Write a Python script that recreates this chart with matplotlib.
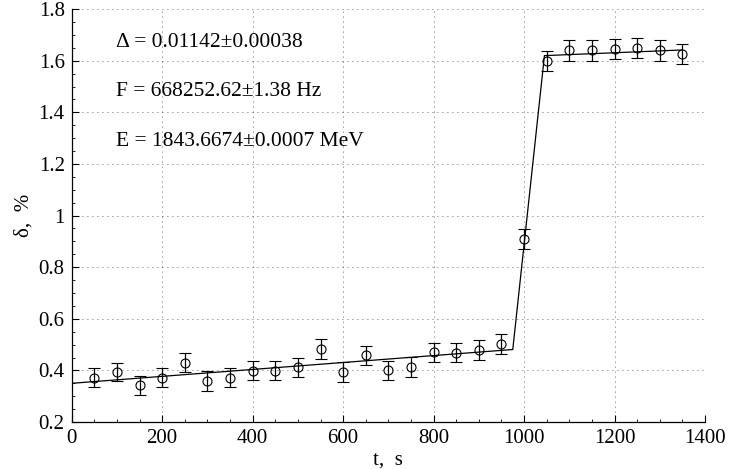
import matplotlib
matplotlib.use('Agg')
from matplotlib import pyplot as plt
from matplotlib.ticker import MultipleLocator

# measured points
t = [50, 100, 150, 200, 250, 300, 350, 400, 450, 500, 550, 600, 650, 700,
     750, 800, 850, 900, 950, 1000, 1050, 1100, 1150, 1200, 1250, 1300, 1350]
delta = [0.372, 0.393, 0.342, 0.372, 0.430, 0.359, 0.372, 0.398, 0.398, 0.413,
         0.484, 0.393, 0.458, 0.400, 0.414, 0.470, 0.469, 0.480, 0.502, 0.908,
         1.598, 1.640, 1.640, 1.646, 1.651, 1.640, 1.625]
err = [0.036, 0.036, 0.037, 0.037, 0.037, 0.037, 0.037, 0.037, 0.037, 0.037,
       0.038, 0.038, 0.038, 0.038, 0.038, 0.038, 0.038, 0.038, 0.038, 0.039,
       0.039, 0.039, 0.039, 0.039, 0.039, 0.039, 0.039]

# fit curve
fit_t = [0, 975, 1045, 1350]
fit_d = [0.350, 0.481, 1.620, 1.642]

labels = [u'\u0394 = 0.01142\u00b10.00038',
          u'F = 668252.62\u00b11.38 Hz',
          u'E = 1843.6674\u00b10.0007 MeV']
label_y = [1.655, 1.462, 1.268]

plt.rcParams['font.family'] = ['Liberation Serif', 'DejaVu Serif']
plt.rcParams['font.size'] = 15

fig = plt.figure(figsize=(7.3, 4.69), dpi=100)
ax = fig.add_axes([0.0982, 0.1002, 0.8676, 0.8802])

ax.plot(fit_t, fit_d, color='black', linewidth=0.9)
ax.errorbar(t, delta, yerr=err, fmt='o', color='black', mfc='none',
            markersize=6.5, mew=0.8, elinewidth=0.9, capsize=4.5, capthick=0.9)

for s, y in zip(labels, label_y):
    ax.text(98, y, s, fontsize=15.5, va='baseline', ha='left')

ax.set_xlim(0, 1400)
ax.set_ylim(0.2, 1.8)
ax.xaxis.set_major_locator(MultipleLocator(200))
ax.xaxis.set_minor_locator(MultipleLocator(50))
ax.yaxis.set_major_locator(MultipleLocator(0.2))
ax.yaxis.set_minor_locator(MultipleLocator(0.05))
ax.set_yticks([0.2, 0.4, 0.6, 0.8, 1.0, 1.2, 1.4, 1.6, 1.8])
ax.set_yticklabels(['0.2', '0.4', '0.6', '0.8', '1', '1.2', '1.4', '1.6', '1.8'])

ax.spines['top'].set_visible(False)
ax.spines['right'].set_visible(False)
ax.spines['left'].set_linewidth(0.9)
ax.spines['bottom'].set_linewidth(0.9)
ax.tick_params(which='major', direction='in', length=5, width=0.8, labelsize=15, pad=5)
ax.tick_params(which='minor', direction='in', length=2.5, width=0.6)

ax.grid(True, which='major', linestyle=(0, (1, 5)), color='#333333', linewidth=0.6)

ax.set_xlabel('t,  s', fontsize=15, labelpad=2)
ax.set_ylabel(u'\u03b4,  %', fontsize=15, labelpad=4)

fig.savefig('out.png', dpi=100)
